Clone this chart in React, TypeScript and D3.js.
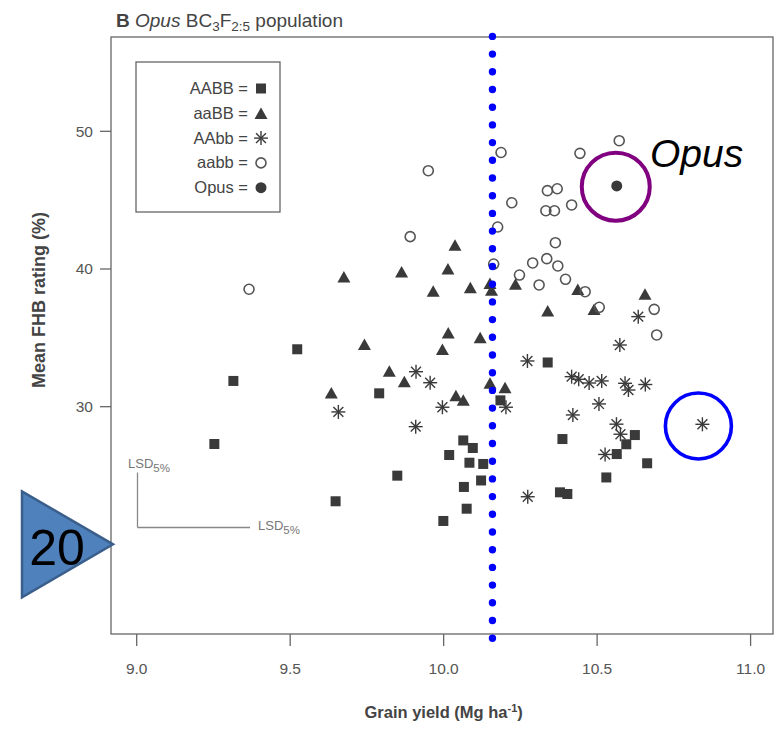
import React from "react";
import * as d3 from "d3";

// ---- Data (Grain yield Mg/ha, Mean FHB rating %) ----
const aabbX = [9.253, 9.315, 9.523, 9.648, 9.790, 9.849, 9.999, 10.018, 10.064, 10.095, 10.084, 10.129, 10.122, 10.066, 10.075, 10.185, 10.339, 10.387, 10.623, 10.595, 10.564, 10.663, 10.530, 10.379, 10.403];
const aabbY = [27.29, 31.87, 34.17, 23.13, 30.97, 24.99, 21.70, 26.49, 27.55, 27.0, 25.93, 25.84, 24.64, 24.17, 22.59, 30.46, 33.21, 27.65, 27.94, 27.27, 26.56, 25.89, 24.86, 23.78, 23.66];

const aaBBX = [9.634, 9.675, 9.742, 9.823, 9.863, 9.872, 9.966, 9.996, 10.014, 10.015, 10.037, 10.040, 10.064, 10.087, 10.119, 10.151, 10.156, 10.151, 10.200, 10.234, 10.339, 10.437, 10.490, 10.656];
const aaBBY = [31.02, 39.44, 34.53, 32.59, 39.80, 31.82, 38.40, 34.17, 40.01, 35.37, 41.74, 30.81, 30.49, 38.66, 35.03, 38.96, 38.48, 31.72, 31.39, 38.91, 36.97, 38.53, 37.07, 38.18];

const AAbbX = [9.657, 9.910, 9.956, 9.909, 9.996, 10.203, 10.273, 10.274, 10.417, 10.440, 10.474, 10.515, 10.591, 10.602, 10.657, 10.506, 10.421, 10.563, 10.576, 10.526, 10.574, 10.634, 10.843];
const AAbbY = [29.62, 32.54, 31.74, 28.55, 29.96, 29.96, 33.32, 23.46, 32.18, 31.99, 31.72, 31.87, 31.70, 31.21, 31.61, 30.20, 29.40, 28.73, 28.00, 26.53, 34.48, 36.54, 28.72];

const aabb2X = [9.366, 9.891, 9.950, 10.163, 10.176, 10.187, 10.222, 10.247, 10.290, 10.311, 10.333, 10.361, 10.338, 10.370, 10.417, 10.364, 10.336, 10.372, 10.397, 10.444, 10.461, 10.507, 10.572, 10.686, 10.694];
const aabb2Y = [38.53, 42.35, 47.14, 40.36, 43.05, 48.46, 44.81, 39.56, 40.44, 38.84, 44.23, 44.23, 45.69, 45.83, 44.65, 41.91, 40.75, 40.22, 39.25, 48.40, 38.35, 37.22, 49.32, 37.07, 35.21];

const opusX = [10.564];
const opusY = [46.03];

const xTicks = [9.0, 9.5, 10.0, 10.5, 11.0];
const yTicks = [20, 30, 40, 50];
const legendLabels = ["AABB =", "aaBB =", "AAbb =", "aabb =", "Opus ="];
const legendKinds = ["square", "triangle", "asterisk", "circle", "filled"];
const cutoffYield = 10.159;
const highlightAsterisk = 22; // index in AAbb
const calloutValue = 20;

// ---- Layout ----
const W = 777, H = 731;
const left = 111, right = 773, top = 37, bottom = 634;
const x = d3.scaleLinear().domain([8.9163, 11.073]).range([left, right]);
const y = d3.scaleLinear().domain([13.49, 56.85]).range([bottom, top]);

const INK = "#3a3a3a";
const AX = "#666";
const FONT = "Liberation Sans, Arial, Helvetica, sans-serif";

function Marker({ kind, cx, cy }: { kind: string; cx: number; cy: number }) {
  if (kind === "square") {
    const s = 10;
    return <rect x={cx - s / 2} y={cy - s / 2} width={s} height={s} fill={INK} />;
  }
  if (kind === "triangle") {
    const w = 13, h = 11.5;
    const p = `${cx - w / 2},${cy + h / 2} ${cx + w / 2},${cy + h / 2} ${cx},${cy - h / 2}`;
    return <polygon points={p} fill={INK} />;
  }
  if (kind === "asterisk") {
    const r = 7, d = r * 0.7071;
    return (
      <g stroke={INK} strokeWidth={1.4} strokeLinecap="butt">
        <line x1={cx - r} y1={cy} x2={cx + r} y2={cy} />
        <line x1={cx} y1={cy - r} x2={cx} y2={cy + r} />
        <line x1={cx - d} y1={cy - d} x2={cx + d} y2={cy + d} />
        <line x1={cx - d} y1={cy + d} x2={cx + d} y2={cy - d} />
      </g>
    );
  }
  if (kind === "circle") {
    return <circle cx={cx} cy={cy} r={5} fill="none" stroke="#555" strokeWidth={1.6} />;
  }
  return <circle cx={cx} cy={cy} r={5.5} fill={INK} />;
}

function Series({ xs, ys, kind }: { xs: number[]; ys: number[]; kind: string }) {
  return (
    <g>
      {xs.map((v, i) => (
        <Marker key={i} kind={kind} cx={x(v)} cy={y(ys[i])} />
      ))}
    </g>
  );
}

export default function App() {
  const dotTop = 36.4, dotBottom = 640;
  const lx = x(cutoffYield);
  const legendRowY = (i: number) => 88.5 + i * 24.8;
  const tipY = y(calloutValue);
  return (
    <svg width={W} height={H} style={{ position: "absolute", left: 0, top: 0, background: "#fff" }} fontFamily={FONT}>
      {/* Title */}
      <text x={116} y={27} fontSize={19} fill="#444">
        <tspan fontWeight="bold">B</tspan>
        <tspan fontStyle="italic"> Opus</tspan>
        <tspan> BC</tspan>
        <tspan fontSize={13.5} dy={4}>3</tspan>
        <tspan dy={-4}>F</tspan>
        <tspan fontSize={13.5} dy={4}>2:5</tspan>
        <tspan dy={-4}> population</tspan>
      </text>

      {/* Plot box */}
      <rect x={left} y={top} width={right - left} height={bottom - top} fill="none" stroke={AX} strokeWidth={1.3} />

      {/* X axis */}
      {xTicks.map((t) => (
        <g key={t}>
          <line x1={x(t)} x2={x(t)} y1={bottom} y2={bottom + 12} stroke={AX} strokeWidth={1.3} />
          <text x={x(t)} y={674} textAnchor="middle" fontSize={15.5} fill="#555">{t.toFixed(1)}</text>
        </g>
      ))}
      <text x={x(10)} y={718} textAnchor="middle" fontSize={16.5} fontWeight="bold" fill="#444">
        Grain yield (Mg ha<tspan fontSize={11} dy={-6}>-1</tspan><tspan dy={6}>)</tspan>
      </text>

      {/* Y axis */}
      {yTicks.map((t) => (
        <g key={t}>
          <line x1={left - 11} x2={left} y1={y(t)} y2={y(t)} stroke={AX} strokeWidth={1.3} />
          {t !== calloutValue && (
            <text x={93} y={y(t) + 5.5} textAnchor="end" fontSize={15.5} fill="#555">{t}</text>
          )}
        </g>
      ))}
      <text transform={`translate(45,300) rotate(-90)`} textAnchor="middle" fontSize={18} fontWeight="bold" fill="#444">
        Mean FHB rating (%)
      </text>

      {/* Legend */}
      <rect x={136} y={62} width={144} height={150} fill="#fff" stroke={AX} strokeWidth={1.3} />
      {legendLabels.map((lab, i) => (
        <g key={lab}>
          <text x={248} y={legendRowY(i) + 5.5} textAnchor="end" fontSize={16.5} fill="#444">{lab}</text>
          <Marker kind={legendKinds[i]} cx={261} cy={legendRowY(i)} />
        </g>
      ))}

      {/* LSD annotation */}
      <g stroke="#888" strokeWidth={1.3} fill="none">
        <line x1={137.5} x2={137.5} y1={472.5} y2={527.5} />
        <line x1={137.5} x2={250} y1={527.5} y2={527.5} />
      </g>
      <text x={128} y={468} fontSize={13} fill="#777">
        LSD<tspan fontSize={11.5} dy={4}>5%</tspan>
      </text>
      <text x={258} y={530} fontSize={13} fill="#777">
        LSD<tspan fontSize={11.5} dy={4}>5%</tspan>
      </text>

      {/* Points */}
      <Series xs={aabbX} ys={aabbY} kind="square" />
      <Series xs={aaBBX} ys={aaBBY} kind="triangle" />
      <Series xs={AAbbX} ys={AAbbY} kind="asterisk" />
      <Series xs={aabb2X} ys={aabb2Y} kind="circle" />
      <Series xs={opusX} ys={opusY} kind="filled" />

      {/* Blue dotted cutoff line */}
      <line x1={lx} x2={lx} y1={dotTop} y2={dotBottom} stroke="#0000ff" strokeWidth={7.4} strokeLinecap="round" strokeDasharray="0 17.7" />

      {/* Highlight circles */}
      <circle cx={x(opusX[0]) - 1} cy={y(opusY[0]) + 0.7} r={34} fill="none" stroke="#800080" strokeWidth={4} />
      <circle cx={x(AAbbX[highlightAsterisk]) - 4} cy={y(AAbbY[highlightAsterisk]) + 1.7} r={33} fill="none" stroke="#0000ff" strokeWidth={3.6} />
      <text x={650} y={167} fontSize={39} fontStyle="italic" fill="#000">Opus</text>

      {/* Callout triangle with 20 */}
      <polygon points={`22,${tipY - 53} 22,${tipY + 53} ${left + 2},${tipY}`} fill="#4f81bd" stroke="#3a5f8b" strokeWidth={2.5} />
      <text x={57} y={tipY + 21} textAnchor="middle" fontSize={50} fill="#000">{calloutValue}</text>
    </svg>
  );
}
